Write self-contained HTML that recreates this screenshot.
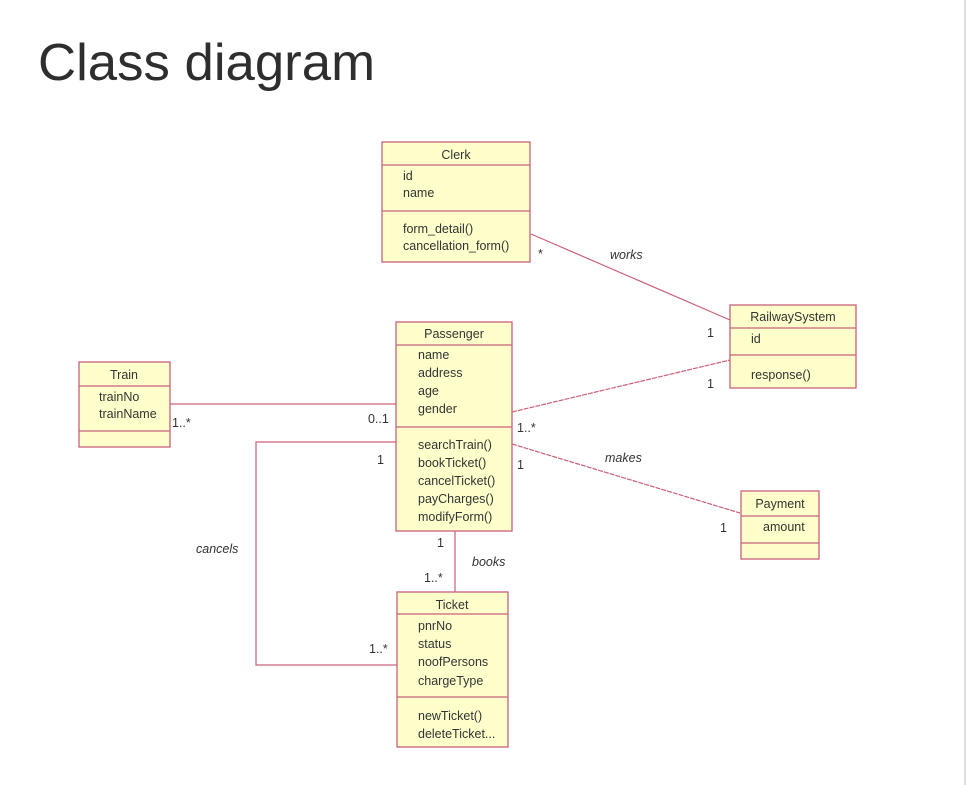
<!DOCTYPE html>
<html><head><meta charset="utf-8"><style>
html,body{margin:0;padding:0;background:#fff;width:967px;height:785px;overflow:hidden}
svg{display:block}
text{font-family:"Liberation Sans",Arial,sans-serif;fill:#333}
.t{font-size:12.5px}
.b{fill:#ffffcc;stroke:#c9607a;stroke-width:1.3}
.l{stroke:#c9607a;stroke-width:1.2;fill:none}
</style></head><body>
<svg width="967" height="785" viewBox="0 0 967 785">
<rect x="0" y="0" width="967" height="785" fill="#fff"/>
<line x1="965" y1="0" x2="965" y2="785" stroke="#ddd" stroke-width="2"/>
<text x="38" y="80" font-size="52" textLength="337" lengthAdjust="spacingAndGlyphs" style="fill:#2e2e2e">Class diagram</text>

<!-- connectors -->
<line class="l" x1="531" y1="234" x2="730" y2="320"/>
<line class="l" x1="512" y1="412" x2="730" y2="360" stroke-dasharray="5,1"/>
<line class="l" x1="512" y1="444" x2="740" y2="513" stroke-dasharray="5,1"/>
<line class="l" x1="170" y1="404" x2="396" y2="404"/>
<polyline class="l" points="396,442 256,442 256,665 397,665"/>
<line class="l" x1="455" y1="531" x2="455" y2="592"/>

<!-- Clerk -->
<rect class="b" x="382" y="142" width="148" height="120"/>
<line class="l" x1="382" y1="165" x2="530" y2="165"/>
<line class="l" x1="382" y1="211" x2="530" y2="211"/>
<text class="t" x="456" y="159" text-anchor="middle">Clerk</text>
<text class="t" x="403" y="180">id</text>
<text class="t" x="403" y="197">name</text>
<text class="t" x="403" y="233">form_detail()</text>
<text class="t" x="403" y="250">cancellation_form()</text>

<!-- Passenger -->
<rect class="b" x="396" y="322" width="116" height="209"/>
<line class="l" x1="396" y1="345" x2="512" y2="345"/>
<line class="l" x1="396" y1="427" x2="512" y2="427"/>
<text class="t" x="454" y="338" text-anchor="middle">Passenger</text>
<text class="t" x="418" y="359">name</text>
<text class="t" x="418" y="377">address</text>
<text class="t" x="418" y="395">age</text>
<text class="t" x="418" y="413">gender</text>
<text class="t" x="418" y="449">searchTrain()</text>
<text class="t" x="418" y="467">bookTicket()</text>
<text class="t" x="418" y="485">cancelTicket()</text>
<text class="t" x="418" y="503">payCharges()</text>
<text class="t" x="418" y="521">modifyForm()</text>

<!-- Train -->
<rect class="b" x="79" y="362" width="91" height="85"/>
<line class="l" x1="79" y1="386" x2="170" y2="386"/>
<line class="l" x1="79" y1="431" x2="170" y2="431"/>
<text class="t" x="124" y="379" text-anchor="middle">Train</text>
<text class="t" x="99" y="401">trainNo</text>
<text class="t" x="99" y="418">trainName</text>

<!-- RailwaySystem -->
<rect class="b" x="730" y="305" width="126" height="83"/>
<line class="l" x1="730" y1="328" x2="856" y2="328"/>
<line class="l" x1="730" y1="355" x2="856" y2="355"/>
<text class="t" x="793" y="321" text-anchor="middle">RailwaySystem</text>
<text class="t" x="751" y="343">id</text>
<text class="t" x="751" y="379">response()</text>

<!-- Payment -->
<rect class="b" x="741" y="491" width="78" height="68"/>
<line class="l" x1="741" y1="516" x2="819" y2="516"/>
<line class="l" x1="741" y1="543" x2="819" y2="543"/>
<text class="t" x="780" y="508" text-anchor="middle">Payment</text>
<text class="t" x="763" y="531">amount</text>

<!-- Ticket -->
<rect class="b" x="397" y="592" width="111" height="155"/>
<line class="l" x1="397" y1="614" x2="508" y2="614"/>
<line class="l" x1="397" y1="697" x2="508" y2="697"/>
<text class="t" x="452" y="609" text-anchor="middle">Ticket</text>
<text class="t" x="418" y="630">pnrNo</text>
<text class="t" x="418" y="648">status</text>
<text class="t" x="418" y="666">noofPersons</text>
<text class="t" x="418" y="685">chargeType</text>
<text class="t" x="418" y="720">newTicket()</text>
<text class="t" x="418" y="738">deleteTicket...</text>

<!-- labels -->
<text class="t" x="538" y="258">*</text>
<text class="t" x="610" y="259" font-style="italic">works</text>
<text class="t" x="707" y="337">1</text>
<text class="t" x="707" y="388">1</text>
<text class="t" x="517" y="432">1..*</text>
<text class="t" x="517" y="469">1</text>
<text class="t" x="605" y="462" font-style="italic">makes</text>
<text class="t" x="720" y="532">1</text>
<text class="t" x="172" y="427">1..*</text>
<text class="t" x="368" y="423">0..1</text>
<text class="t" x="377" y="464">1</text>
<text class="t" x="196" y="553" font-style="italic">cancels</text>
<text class="t" x="369" y="653">1..*</text>
<text class="t" x="437" y="547">1</text>
<text class="t" x="472" y="566" font-style="italic">books</text>
<text class="t" x="424" y="582">1..*</text>
</svg>
</body></html>
